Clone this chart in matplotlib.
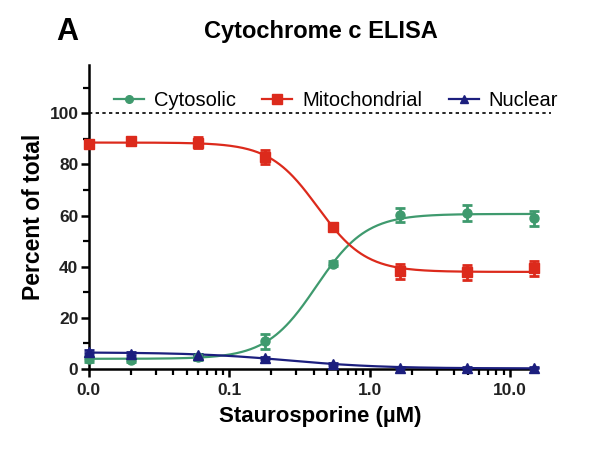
import numpy as np
import matplotlib
matplotlib.use("Agg")
import matplotlib.pyplot as plt
from matplotlib.ticker import FixedLocator, NullFormatter

plt.rcParams['font.family'] = ['Liberation Sans', 'DejaVu Sans']

# ---- data ----
dose = [0.01, 0.02, 0.06, 0.18, 0.55, 1.65, 4.9, 14.8]
cyto = [3.9, 3.6, 4.7, 10.8, 41.2, 60.2, 61.0, 59.0]
cyto_err = [1.0, 0.8, 1.0, 3.0, 1.0, 2.8, 3.0, 3.0]
mito = [88.0, 89.3, 88.5, 83.0, 55.7, 38.2, 37.8, 39.4]
mito_err = [1.5, 1.0, 2.2, 2.8, 1.0, 2.8, 3.0, 3.0]
nuc = [6.8, 6.0, 5.5, 4.3, 2.0, 0.5, 0.3, 0.5]
nuc_err = [0.6, 0.5, 0.5, 0.5, 0.4, 0.3, 0.3, 0.3]
series_names = ['Cytosolic', 'Mitochondrial', 'Nuclear']
xtick_vals = [0.01, 0.1, 1.0, 10.0]
xtick_labels = ['0.0', '0.1', '1.0', '10.0']
ytick_vals = [0, 20, 40, 60, 80, 100]

colors = ['#3f9a6e', '#dc2a1c', '#1c1f7e']
markers = ['o', 's', '^']


def fit4pl(x, y):
    """Least-squares four-parameter logistic fit (grid over EC50 and Hill)."""
    x = np.asarray(x, float)
    y = np.asarray(y, float)
    best = None
    for lec in np.linspace(-2, 1, 301):
        for h in np.linspace(0.5, 5, 91):
            g = 1.0 / (1.0 + (x / 10 ** lec) ** h)
            A = np.column_stack([np.ones_like(g), g])
            coef, *_ = np.linalg.lstsq(A, y, rcond=None)
            sse = np.sum((A @ coef - y) ** 2)
            if best is None or sse < best[0]:
                best = (sse, lec, h, coef)
    _, lec, h, coef = best
    return lambda xx: coef[0] + coef[1] / (1.0 + (xx / 10 ** lec) ** h)


fig = plt.figure(figsize=(6, 4.5), dpi=100)
ax = fig.add_axes([0.148, 0.18, 0.77, 0.676])

xs = np.logspace(np.log10(dose[0]), np.log10(dose[-1]), 400)
handles = []
for vals, err, name, c, m in zip([cyto, mito, nuc], [cyto_err, mito_err, nuc_err],
                                 series_names, colors, markers):
    f = fit4pl(dose, vals)
    ax.plot(xs, f(xs), color=c, lw=1.6, zorder=3, clip_on=False)
    ms = 7.5 if m == 's' else 6.5
    ax.errorbar(dose, vals, yerr=err, fmt=m, color=c, ms=ms, capsize=3.5,
                elinewidth=2, capthick=2, zorder=4, clip_on=False)
    h, = ax.plot([], [], marker=m, color=c, lw=1.6, ms=ms - 1)
    handles.append(h)

ax.axhline(100, color='black', ls=(0, (2, 2)), lw=1.2, zorder=2)

ax.set_xscale('log')
ax.set_xlim(0.01, 19.5)
ax.set_ylim(0, 119)
ax.spines['top'].set_visible(False)
ax.spines['right'].set_visible(False)
ax.spines['left'].set_linewidth(1.8)
ax.spines['bottom'].set_linewidth(1.8)
ax.spines['bottom'].set_bounds(0.01, 15)

ax.xaxis.set_major_locator(FixedLocator(xtick_vals))
ax.set_xticklabels(xtick_labels)
minor = [k * 10.0 ** d for d in (-2, -1, 0) for k in range(2, 10)]
ax.xaxis.set_minor_locator(FixedLocator(minor))
ax.xaxis.set_minor_formatter(NullFormatter())
ax.yaxis.set_major_locator(FixedLocator(ytick_vals))
ax.yaxis.set_minor_locator(FixedLocator([10, 30, 50, 70, 90, 110]))

ax.tick_params(axis='both', which='major', length=6, width=1.8, labelsize=12.5)
ax.tick_params(axis='x', which='major', pad=4)
ax.tick_params(axis='y', which='major', pad=1.5)
ax.tick_params(axis='both', which='minor', length=4, width=1.6)
for lab in ax.get_xticklabels() + ax.get_yticklabels():
    lab.set_fontweight('bold')
    lab.set_color('#222222')

ax.set_xlabel('Staurosporine (\u00b5M)', fontsize=16, fontweight='bold', labelpad=6)
ax.set_ylabel('Percent of total', fontsize=16.5, fontweight='bold', labelpad=3)

ax.legend(handles, series_names, loc='center', bbox_to_anchor=(0.535, 105 / 119),
          ncol=3, frameon=False, fontsize=14.5, handlelength=1.5,
          columnspacing=1.3, handletextpad=0.5, borderaxespad=0.0)

fig.text(0.112, 0.93, 'A', fontsize=22, fontweight='bold', ha='center', va='center')
fig.text(0.535, 0.93, 'Cytochrome c ELISA', fontsize=17, fontweight='bold',
         ha='center', va='center')

fig.savefig('out.png', dpi=100)
